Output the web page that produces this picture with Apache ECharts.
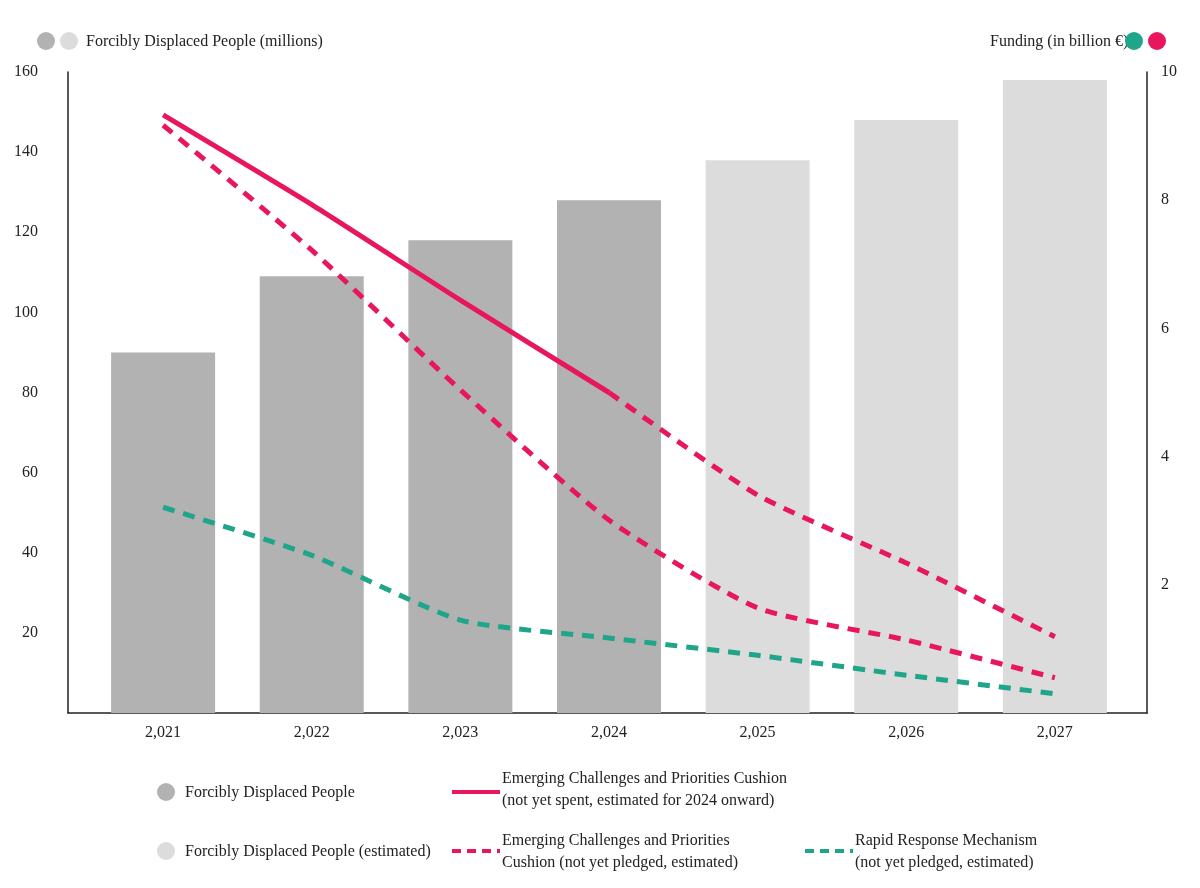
<!DOCTYPE html>
<html>
  <head>
    <meta charset="utf-8" />
    <title>Displaced people and funding</title>
    <script src="https://cdn.jsdelivr.net/npm/echarts@6/dist/echarts.min.js"></script>
    <style>
      * { margin: 0; padding: 0; }
      html, body, #container { width: 100%; height: 100%; background: #fff; }
    </style>
  </head>
  <body>
    <div id="container"></div>
    <script>
      const years = [2021, 2022, 2023, 2024, 2025, 2026, 2027];
      const displaced = [90, 109, 118, 128, null, null, null];
      const displacedEst = [null, null, null, null, 138, 148, 158];
      const cushionSpent = [9.33, 7.93, 6.44, 5.0, null, null, null];
      const cushionSpentEst = [null, null, null, 5.0, 3.4, 2.34, 1.19];
      const cushionPledged = [9.17, 7.22, 5.04, 3.01, 1.64, 1.14, 0.55];
      const rapidResponse = [3.21, 2.46, 1.45, 1.17, 0.9, 0.59, 0.3];

      const PINK = "#e8175d", GREEN = "#1fa68a", DARK = "#b2b2b2", LIGHT = "#dcdcdc";
      const FONT = "Liberation Sans Narrow";

      const pairs = (arr) => years.map((y, i) => [y, arr[i]]).filter((p) => p[1] != null);

      const chart = echarts.init(document.getElementById("container"));
      const txt = (x, y, t) => ({ type: "text", left: x, top: y, style: { text: t, font: "16px " + FONT, fill: "#222", lineHeight: 22 } });
      const dot = (x, y, c) => ({ type: "circle", shape: { cx: x, cy: y, r: 9 }, style: { fill: c } });
      const seg = (x, y, c, dash) => ({ type: "line", shape: { x1: x, y1: y, x2: x + 48, y2: y }, style: { stroke: c, lineWidth: 4, lineDash: dash ? [9, 6] : null } });

      chart.setOption({
        textStyle: { fontFamily: FONT },
        grid: { left: 68, right: 53, top: 72, bottom: 175 },
        xAxis: {
          type: "value", min: 2020.36, max: 2027.62,
          axisLine: { show: true, lineStyle: { color: "#222", width: 1.5 } },
          axisTick: { show: false },
          splitLine: { show: false },
          axisLabel: { customValues: years, color: "#222", fontSize: 16, margin: 12 }
        },
        yAxis: [
          {
            type: "value", min: 0, max: 160, interval: 20,
            axisLine: { show: true, lineStyle: { color: "#222", width: 1.5 } },
            axisTick: { show: false }, splitLine: { show: false },
            axisLabel: { color: "#222", fontSize: 16, margin: 30, formatter: (v) => (v === 0 ? "" : v) }
          },
          {
            type: "value", min: 0, max: 10, interval: 2,
            axisLine: { show: true, lineStyle: { color: "#222", width: 1.5 } },
            axisTick: { show: false }, splitLine: { show: false },
            axisLabel: { color: "#222", fontSize: 16, margin: 14, formatter: (v) => (v === 0 ? "" : v) }
          }
        ],
        series: [
          { type: "bar", data: pairs(displaced), barWidth: 104, barGap: "-100%", itemStyle: { color: DARK } },
          { type: "bar", data: pairs(displacedEst), barWidth: 104, barGap: "-100%", itemStyle: { color: LIGHT } },
          { type: "line", yAxisIndex: 1, data: pairs(cushionSpent), smooth: 0.2, symbol: "none", lineStyle: { color: PINK, width: 5 } },
          { type: "line", yAxisIndex: 1, data: pairs(cushionSpentEst), smooth: 0.2, symbol: "none", lineStyle: { color: PINK, width: 5, type: [12, 9] } },
          { type: "line", yAxisIndex: 1, data: pairs(cushionPledged), smooth: 0.2, symbol: "none", lineStyle: { color: PINK, width: 5, type: [12, 9] } },
          { type: "line", yAxisIndex: 1, data: pairs(rapidResponse), smooth: 0.2, symbol: "none", lineStyle: { color: GREEN, width: 5, type: [12, 9] } }
        ],
        graphic: [
          dot(46, 41, DARK), dot(69, 41, LIGHT),
          txt(86, 31, "Forcibly Displaced People (millions)"),
          txt(990, 31, "Funding (in billion €)"),
          dot(1134, 41, GREEN), dot(1157, 41, PINK),
          dot(166, 792, DARK), txt(185, 782, "Forcibly Displaced People"),
          dot(166, 851, LIGHT), txt(185, 841, "Forcibly Displaced People (estimated)"),
          seg(452, 792, PINK, false), txt(502, 768, "Emerging Challenges and Priorities Cushion\n(not yet spent, estimated for 2024 onward)"),
          seg(452, 851, PINK, true), txt(502, 830, "Emerging Challenges and Priorities\nCushion (not yet pledged, estimated)"),
          seg(805, 851, GREEN, true), txt(855, 830, "Rapid Response Mechanism\n(not yet pledged, estimated)")
        ]
      });
    </script>
  </body>
</html>
